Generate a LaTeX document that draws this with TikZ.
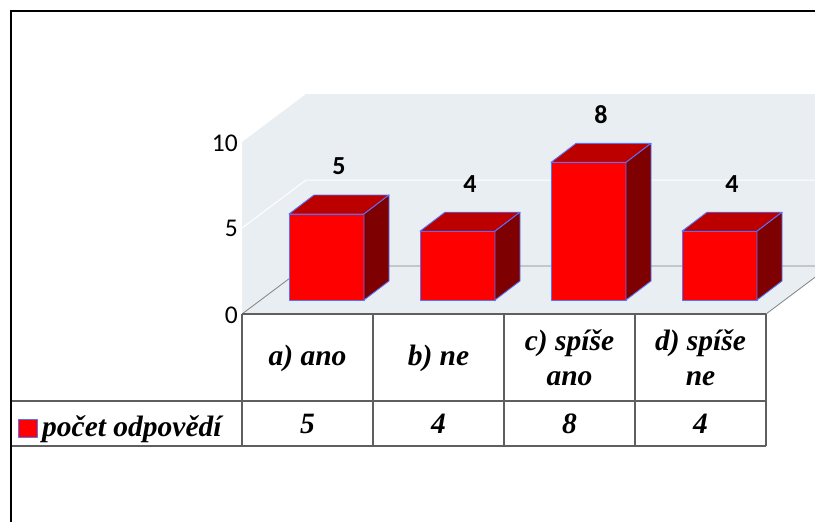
\documentclass[tikz,border=0pt]{standalone}
\usepackage{fontspec}
\setmainfont{Liberation Serif}
\newfontfamily\chartfont{Carlito}
\definecolor{wallgray}{RGB}{232,238,242}
\definecolor{barfront}{RGB}{255,0,0}
\definecolor{bartop}{RGB}{188,0,0}
\definecolor{barside}{RGB}{127,0,0}
\definecolor{baredge}{RGB}{85,115,255}
\definecolor{tablegray}{RGB}{95,95,95}
\begin{document}
\begin{tikzpicture}[x=1pt, y=-1pt,
  barface/.style={draw=baredge, line width=0.9pt, line join=round},
  axislabel/.style={anchor=east, inner sep=0pt, font=\chartfont\fontsize{25.5}{30}\selectfont},
  valuelabel/.style={inner sep=0pt, font=\chartfont\bfseries\fontsize{26}{30}\selectfont},
  cell/.style={inner sep=0pt, align=center, font=\bfseries\itshape\fontsize{29.5}{35}\selectfont},
  tableline/.style={draw=tablegray, line width=1.3pt}]
  \useasboundingbox (0,0) rectangle (815,522);
  \clip (0,0) rectangle (815,522);
  % walls and floor
  \fill[wallgray] (242,142) -- (306,94) -- (306,266) -- (242,314) -- cycle;
  \fill[wallgray] (306,94) rectangle (830,266);
  \fill[wallgray] (242,314) -- (306,266) -- (830,266) -- (766,314) -- cycle;
  \draw[white, line width=1pt] (242,228) -- (306,180) -- (830,180);
  \draw[gray, line width=0.8pt] (242,314) -- (306,266) -- (830,266);
  \draw[gray, line width=0.8pt] (766,314) -- (830,266);
  % bars
  \foreach \v [count=\i from 0] in {5,4,8,4} {
    \pgfmathsetmacro{\xa}{289+131*\i}
    \pgfmathsetmacro{\xb}{\xa+75}
    \pgfmathsetmacro{\yt}{300-17.2*\v}
    \filldraw[barface, fill=barfront] (\xa,300) rectangle (\xb,\yt);
    \filldraw[barface, fill=bartop] (\xa,\yt) -- ++(25,-19) -- ++(75,0) -- (\xb,\yt) -- cycle;
    \filldraw[barface, fill=barside] (\xb,300) -- (\xb,\yt) -- ++(25,-19) -- ++(0,{17.2*\v}) -- cycle;
    \node[valuelabel] (val\i) at (\xa+50,\yt-47.5) {\v};
  }
  % axis
  \node[axislabel] (tick0) at (238,315) {0};
  \node[axislabel] (tick5) at (238,228) {5};
  \node[axislabel] (tick10) at (238,143) {10};
  % table
  \draw[tableline] (242,314) -- (766,314);
  \draw[tableline] (11,401) -- (766,401);
  \draw[tableline] (11,446) -- (766,446);
  \foreach \x in {242,373,504,635,766}
    \draw[tableline] (\x,314) -- (\x,446);
  \foreach \txt [count=\i from 0] in {{a) ano},{b) ne},{c) spíše\\ano},{d) spíše\\ne}}
    \node[cell] (head\i) at (307.5+131*\i,358) {\txt};
  \foreach \v [count=\i from 0] in {5,4,8,4}
    \node[cell] (num\i) at (307.5+131*\i,424) {\v};
  \filldraw[barface, fill=barfront] (18,419) rectangle (37,437);
  \node[cell, anchor=base west] (legend) at (42,436) {počet odpovědí};
  % frame
  \draw[black, line width=2.2pt] (10.7,540) -- (10.7,10.7) -- (830,10.7);
\end{tikzpicture}
\end{document}
